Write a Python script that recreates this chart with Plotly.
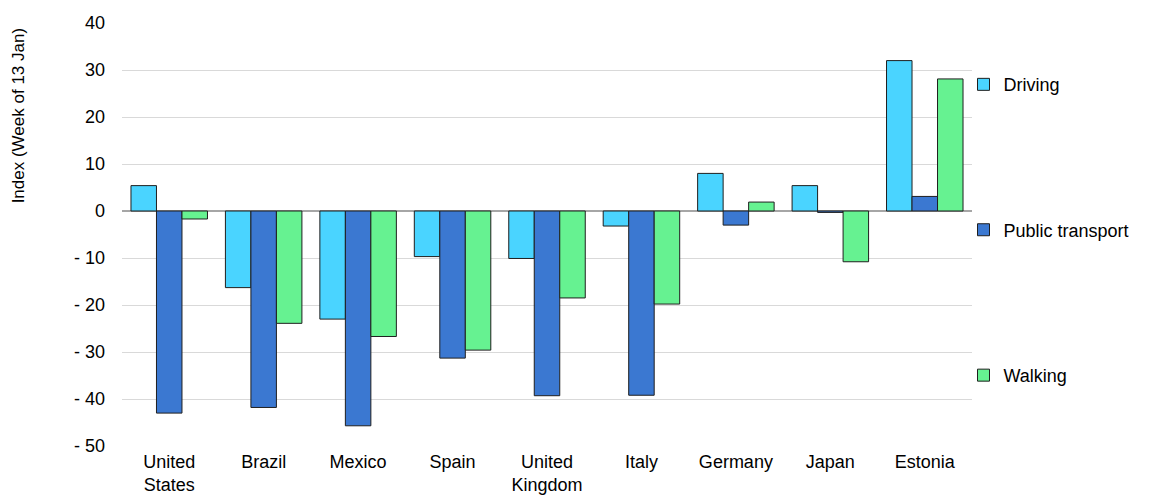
import plotly.graph_objects as go

countries = ["United<br>States", "Brazil", "Mexico", "Spain", "United<br>Kingdom",
             "Italy", "Germany", "Japan", "Estonia"]
driving = [5.4, -16.3, -23.0, -9.7, -10.1, -3.2, 8.0, 5.4, 32.0]
public_transport = [-43.0, -41.8, -45.7, -31.3, -39.3, -39.2, -3.0, -0.3, 3.1]
walking = [-1.7, -23.9, -26.7, -29.6, -18.5, -19.8, 1.9, -10.8, 28.1]

tick_vals = [40, 30, 20, 10, 0, -10, -20, -30, -40, -50]
tick_text = ["40", "30", "20", "10", "0", "- 10", "- 20", "- 30", "- 40", "- 50"]

series = [
    ("Driving", driving, "#4AD4FF"),
    ("Public transport", public_transport, "#3B78D1"),
    ("Walking", walking, "#66F291"),
]

fig = go.Figure()
for i, (name, vals, color) in enumerate(series):
    fig.add_trace(go.Bar(
        x=countries, y=vals, name=name, legendgroup=f"g{i}",
        marker=dict(color=color, line=dict(color="#1f1f1f", width=1)),
    ))

font_family = "Liberation Sans, Arial, sans-serif"
fig.update_layout(
    width=1156, height=497,
    margin=dict(l=122, r=184, t=23, b=51),
    paper_bgcolor="white", plot_bgcolor="white",
    barmode="group", bargap=0.19, bargroupgap=0,
    font=dict(family=font_family, size=18, color="#000000"),
    showlegend=True,
    legend=dict(x=0.99, xanchor="left", y=0.898, yanchor="top",
                tracegroupgap=119, font=dict(size=18),
                bgcolor="rgba(0,0,0,0)"),
    xaxis=dict(showgrid=False, showline=False, ticks="", tickfont=dict(size=18),
               automargin=False, ticklabelstandoff=3),
    yaxis=dict(range=[-50, 40], tickvals=tick_vals, ticktext=tick_text,
               showgrid=True, gridcolor="#D9D9D9", gridwidth=1,
               zeroline=True, zerolinecolor="#A6A6A6", zerolinewidth=1.5,
               showline=False, ticks="", ticklabelstandoff=16,
               tickfont=dict(size=18), automargin=False),
    annotations=[dict(text="Index (Week of 13 Jan)", xref="paper", yref="paper",
                      x=-0.122, y=0.78, xanchor="center", yanchor="middle",
                      textangle=-90, showarrow=False, font=dict(size=17))],
)

fig.write_html("out.html")
